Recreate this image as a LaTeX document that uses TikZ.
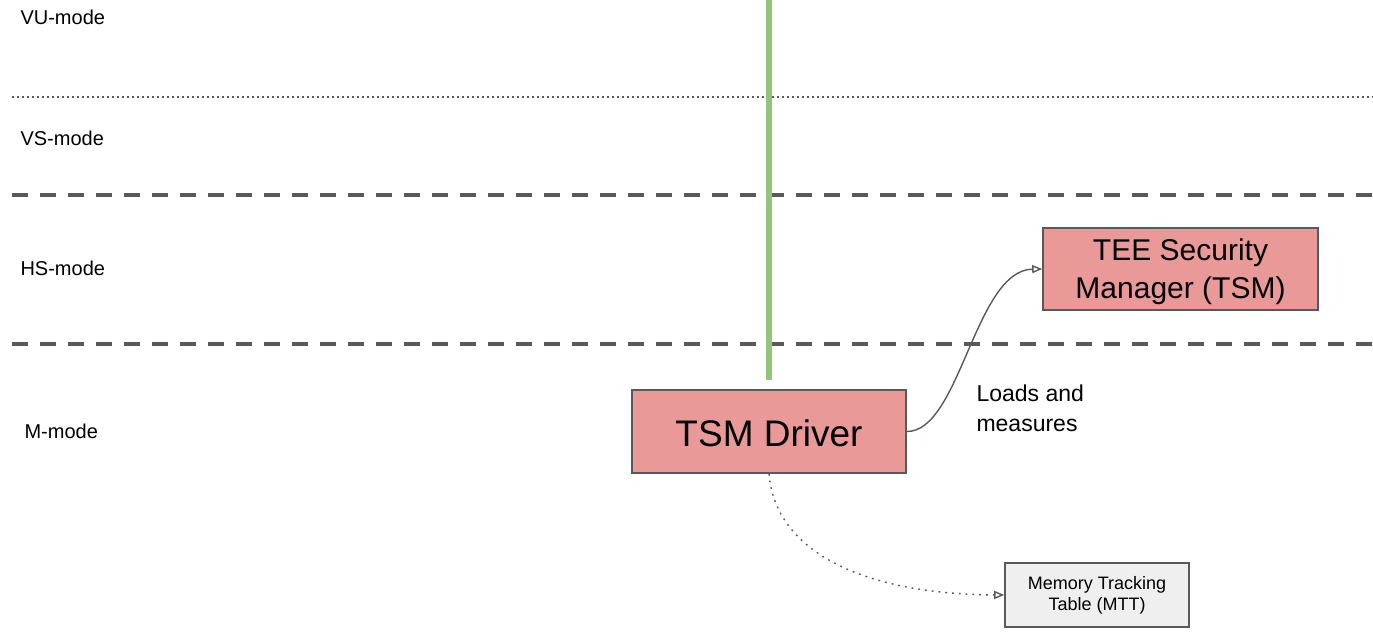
\documentclass[tikz,border=0pt]{standalone}
\usepackage{fontspec}
\setmainfont{Liberation Sans}
\usetikzlibrary{arrows.meta}
\definecolor{edge}{HTML}{595959}
\definecolor{redfill}{HTML}{EA9999}
\definecolor{greyfill}{HTML}{EFEFEF}
\definecolor{trust}{HTML}{93C47D}
% lower a line of text without changing the size it reports
\newcommand{\lowerby}[2]{\raisebox{-#1}[\height][\depth]{#2}}
\tikzset{
  box/.style={draw=edge, line width=1.6pt, inner sep=0pt, align=center},
  redbox/.style={box, fill=redfill},
  greybox/.style={box, fill=greyfill},
  modelabel/.style={anchor=west, font=\fontsize{20}{24}\selectfont},
  boundary/.style={draw=edge, line width=4pt, dash pattern=on 16pt off 12pt},
  softboundary/.style={draw=edge, line width=1.6pt, dash pattern=on 1.6pt off 3.4pt},
  link/.style={draw=edge, line width=1.4pt, -{Triangle[open, length=10pt, width=8pt]}},
}
\begin{document}
\begin{tikzpicture}[x=1pt, y=-1pt]
\useasboundingbox (0,0) rectangle (1373,632);

% privilege level boundaries
\coordinate (b1l) at (12,97);   \coordinate (b1r) at (1373,97);
\coordinate (b2l) at (12,195);  \coordinate (b2r) at (1373,195);
\coordinate (b3l) at (12,344);  \coordinate (b3r) at (1373,344);
\draw[softboundary] (b1l) -- (b1r);
\draw[boundary] (b2l) -- (b2r);
\draw[boundary] (b3l) -- (b3r);

% mode labels
\node[modelabel] (vu) at (17,17) {VU-mode};
\node[modelabel] (vs) at (17,138) {VS-mode};
\node[modelabel] (hs) at (17,268) {HS-mode};
\node[modelabel] (mm) at (21,431) {M-mode};

% green separator
\coordinate (gtop) at (769,0);
\coordinate (gbot) at (769,380);
\draw[trust, line width=6pt] (gtop) -- (gbot);

% components
\node[redbox, minimum width=274pt, minimum height=83pt,
      font=\fontsize{37}{40}\selectfont] (drv) at (769,431.5) {\lowerby{2pt}{TSM Driver}};
\node[redbox, minimum width=275pt, minimum height=82pt,
      font=\fontsize{30}{36}\selectfont] (tsm) at (1180.5,269)
      {\lowerby{2pt}{TEE Security}\\[1pt]\lowerby{3pt}{Manager (TSM)}};
\node[greybox, minimum width=184pt, minimum height=64pt,
      font=\fontsize{18}{21}\selectfont] (mtt) at (1097,595) {Memory Tracking\\Table (MTT)};

% connectors
\draw[link] (drv.east) .. controls (960,432) and (975,270) .. (tsm.west);
\node[anchor=west, align=left, font=\fontsize{23}{30}\selectfont] (lbl) at (973,408) {Loads and\\measures};
\draw[link, dash pattern=on 1.8pt off 5pt] (drv.south) .. controls (775,550) and (860,594) .. (mtt.west);
\end{tikzpicture}
\end{document}
